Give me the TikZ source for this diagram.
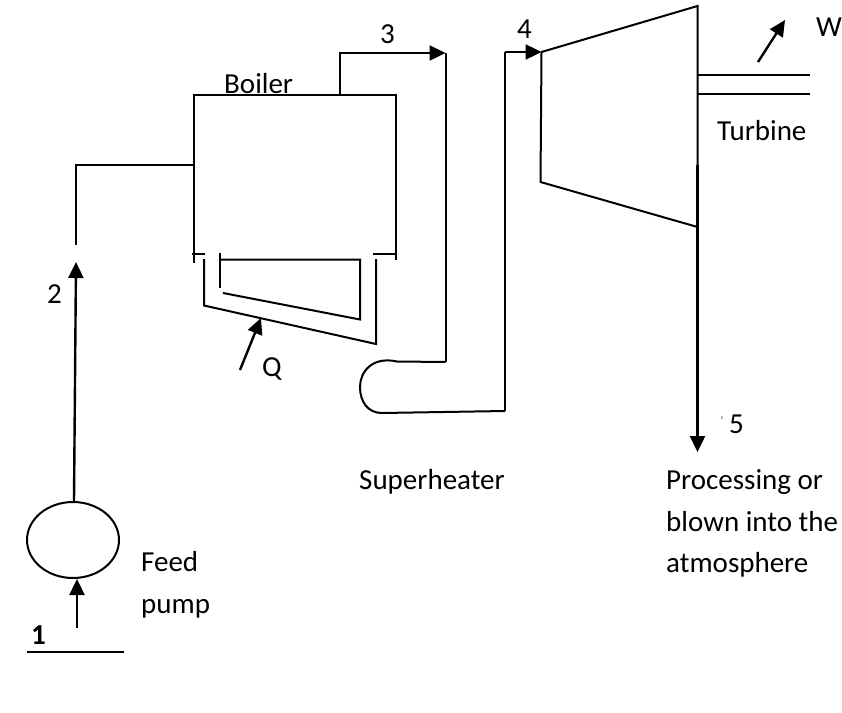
\documentclass[tikz,border=0pt]{standalone}
\usepackage{fontspec}
\setmainfont{Carlito}
\usetikzlibrary{arrows.meta,shapes.geometric}
\tikzset{
  pipe/.style={draw=black,line width=2pt,line join=miter},
  flow/.style={draw=black,line width=2.4pt,line join=miter,-{Triangle[length=16pt,width=15pt]}},
  lbl/.style={inner sep=0pt,font=\fontsize{29}{35}\selectfont,anchor=base west,align=left},
}
\begin{document}
\begin{tikzpicture}[x=1pt,y=-1pt]
\useasboundingbox (0,0) rectangle (842,712);
% boiler
\coordinate (bL) at (193.5,263);
\coordinate (bTL) at (193.5,95);
\coordinate (bTR) at (396,95);
\coordinate (bR) at (396,260);
\draw[pipe] (bL) -- (bTL) -- (bTR) -- (bR);
\draw[pipe] (192,254) -- (205,254);
\draw[pipe] (373,254) -- (396,254);
% heating passages
\draw[pipe] (204,259) -- (204,305.5) -- (376,344) -- (376,259);
\draw[pipe] (220,253) -- (220,288);
\draw[pipe] (220,259.5) -- (360,259.5) -- (360,319.5) -- (223,293);
\coordinate (qS) at (240,370);
\coordinate (qE) at (261,318);
\draw[flow] (qS) -- (qE);
% steam to superheater
\coordinate (s0) at (340,95);
\coordinate (s1) at (340,53);
\coordinate (s2) at (445.5,53);
\coordinate (s3) at (445.5,362);
\draw[flow] (s0) -- (s1) -- (s2);
\draw[pipe] (s2) -- (s3);
% superheater
\coordinate (h1) at (397,361.5);
\coordinate (h2) at (505,411);
\draw[pipe] (s3) -- (h1) .. controls (372,356) and (360,372) .. (360,387)
  .. controls (360,402) and (368,413) .. (382,413) -- (h2);
% to turbine
\coordinate (t0) at (505,52);
\coordinate (tA) at (541.5,52);
\draw[pipe] (h2) -- (t0);
\draw[flow] (t0) -- (tA);
% turbine
\coordinate (tB) at (697.5,6);
\coordinate (tC) at (697.5,227);
\coordinate (tD) at (540.5,182);
\draw[pipe] (tA) -- (tB) -- (tC) -- (tD) -- cycle;
% shaft
\draw[pipe] (698,75) -- (810,75);
\draw[pipe] (698,94) -- (810,94);
\coordinate (wS) at (758,62);
\coordinate (wE) at (785,20);
\draw[flow] (wS) -- (wE);
% exhaust
\coordinate (x0) at (697.5,165);
\coordinate (x1) at (697.5,452);
\draw[flow] (x0) -- (x1);
% feed line
\node[draw=black,line width=2pt,ellipse,minimum width=92pt,minimum height=76pt,inner sep=0pt] (pump) at (73,540) {};
\coordinate (f0) at (193.5,165);
\coordinate (f1) at (76,165);
\coordinate (f2) at (76,245);
\coordinate (a2) at (76,262);
\draw[pipe] (f0) -- (f1) -- (f2);
\draw[flow] (pump.north) ++(1,0) -- (a2);
\coordinate (in) at (77,628);
\draw[flow] (in) -- (pump.south -| in);
\draw[pipe] (27,652) -- (124,652);
% labels
\node[lbl] (tBoiler) at (224,93) {Boiler};
\node[lbl] (t3) at (380,43) {3};
\node[lbl] (t4) at (517,38) {4};
\node[lbl] (tW) at (816,36) {W};
\node[lbl] (tTurbine) at (717,140) {Turbine};
\node[lbl] (t2) at (47,303) {2};
\node[lbl] (tQ) at (262,376) {Q};
\node[lbl] (tSuper) at (359,489) {Superheater};
\node[lbl] (t5) at (729,433) {5};
\node[inner sep=0pt,font=\fontsize{4}{5}\selectfont] (tiny) at (722,418) {2};
\node[lbl] (tP1) at (666,489) {Processing or};
\node[lbl] (tP2) at (666,531) {blown into the};
\node[lbl] (tP3) at (666,572) {atmosphere};
\node[lbl] (tF1) at (141,571) {Feed};
\node[lbl] (tF2) at (141,613) {pump};
\node[lbl] (t1) at (31,644) {\textbf{1}};
\end{tikzpicture}
\end{document}
